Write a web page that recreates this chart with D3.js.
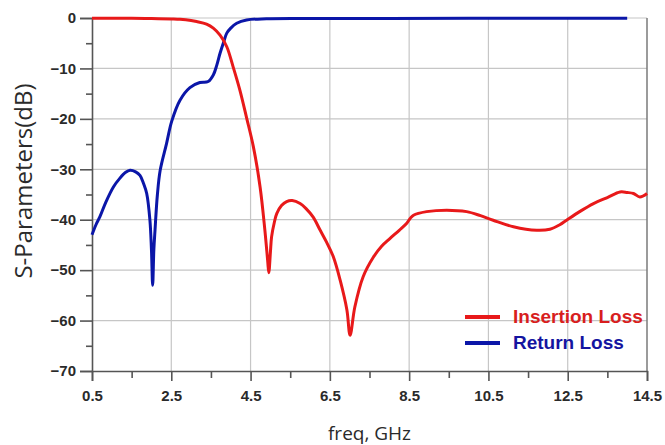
<!DOCTYPE html>
<html>
<head>
<meta charset="utf-8">
<script src="https://cdn.jsdelivr.net/npm/d3@7"></script>
<style>
  html, body { margin: 0; padding: 0; background: #fff; }
  svg { display: block; }
</style>
</head>
<body>
<svg id="chart" width="665" height="445"></svg>
<script>
// ---- Data ----
const xTickValues = [0.5, 2.5, 4.5, 6.5, 8.5, 10.5, 12.5, 14.5];
const xMinorTicks = [1.5, 3.5, 5.5, 7.5, 9.5, 11.5, 13.5];
const yTickValues = [0, -10, -20, -30, -40, -50, -60, -70];
const yMinorTicks = [-5, -15, -25, -35, -45, -55, -65];

const seriesNames = ["Insertion Loss", "Return Loss"];

const insertionFreq = [0.5, 1.5, 2.0, 2.5, 2.72, 3.0, 3.14, 3.39, 3.56, 3.73, 3.90, 4.06, 4.23, 4.40, 4.57, 4.74, 4.86, 4.93, 4.96, 5.00, 5.03, 5.10, 5.16, 5.28, 5.41, 5.55, 5.75, 5.90, 6.08, 6.25, 6.42, 6.59, 6.76, 6.93, 7.01, 7.13, 7.34, 7.60, 7.80, 8.02, 8.25, 8.44, 8.52, 8.61, 8.94, 9.45, 9.95, 10.30, 10.62, 11.13, 11.72, 12.05, 12.30, 12.47, 12.80, 13.15, 13.50, 13.82, 14.00, 14.16, 14.32, 14.50];
const insertionDB   = [-0.05, -0.05, -0.1, -0.2, -0.27, -0.5, -0.7, -1.2, -2.0, -3.4, -5.7, -9.7, -14.3, -19.8, -25.5, -33.5, -42, -48, -50.5, -46.5, -43.4, -40.5, -38.8, -37.2, -36.4, -36.2, -36.8, -37.8, -39.5, -42, -44.5, -47.4, -52, -57.9, -62.9, -57.3, -51.3, -47.4, -45.3, -43.7, -42.1, -40.7, -39.8, -39.1, -38.4, -38.1, -38.4, -39.2, -40.1, -41.4, -42.1, -41.9, -41.0, -40.1, -38.4, -36.8, -35.6, -34.5, -34.6, -34.8, -35.5, -34.8];

const returnFreq = [0.5, 0.6, 0.7, 0.85, 1.04, 1.2, 1.35, 1.46, 1.6, 1.71, 1.8, 1.88, 1.96, 2.00, 2.03, 2.06, 2.09, 2.15, 2.22, 2.38, 2.51, 2.72, 2.97, 3.22, 3.43, 3.56, 3.65, 3.73, 3.82, 3.90, 4.0, 4.15, 4.4, 4.9, 6.0, 8.0, 10.0, 12.0, 14.0];
const returnDB   = [-43, -41, -39.4, -36.5, -33.5, -31.8, -30.6, -30.2, -30.5, -31.2, -32.8, -34.8, -40, -46, -53, -46, -42, -35, -30.2, -24.9, -20.5, -16.3, -13.8, -12.8, -12.6, -11.3, -9.3, -7, -4.8, -3.0, -2.0, -1.05, -0.4, -0.15, -0.1, -0.08, -0.07, -0.05, -0.05];

const seriesColors = ["#e8191a", "#0b16a8"];
const legendTextColors = ["#d81e1e", "#1414a0"];

// ---- Layout ----
const svg = d3.select("#chart");
const plotLeft = 92, plotRight = 647, plotTop = 18, plotBottom = 371;

const x = d3.scaleLinear().domain([0.5, 14.5]).range([plotLeft, plotRight]);
const y = d3.scaleLinear().domain([0, -70]).range([plotTop, plotBottom]);

// Grid lines
const grid = svg.append("g");
grid.selectAll("line.vg").data(xTickValues.slice(1, -1)).join("line")
  .attr("x1", d => x(d)).attr("x2", d => x(d))
  .attr("y1", plotTop).attr("y2", plotBottom)
  .attr("stroke", "#c6c6c6").attr("stroke-width", 1.2);
grid.selectAll("line.hg").data(yTickValues.slice(0, -1)).join("line")
  .attr("x1", plotLeft).attr("x2", plotRight)
  .attr("y1", d => y(d)).attr("y2", d => y(d))
  .attr("stroke", "#c6c6c6").attr("stroke-width", 1.2);
// right border
grid.append("line")
  .attr("x1", plotRight).attr("x2", plotRight).attr("y1", plotTop).attr("y2", plotBottom)
  .attr("stroke", "#7a7a7a").attr("stroke-width", 1.5);

// Axes
const xAxis = d3.axisBottom(x).tickValues(xTickValues).tickFormat(d3.format(".1f")).tickSize(10).tickPadding(9);
const xAxisMinor = d3.axisBottom(x).tickValues(xMinorTicks).tickFormat("").tickSize(7);
const yAxis = d3.axisLeft(y).tickValues(yTickValues).tickFormat(d3.format("d")).tickSize(12).tickPadding(4);
const yAxisMinor = d3.axisLeft(y).tickValues(yMinorTicks).tickFormat("").tickSize(6);

function styleAxis(g) {
  g.selectAll("path.domain").attr("stroke", "#555").attr("stroke-width", 1.6);
  g.selectAll(".tick line").attr("stroke", "#555").attr("stroke-width", 1.6);
  g.selectAll(".tick text")
    .attr("fill", "#2a2a2a")
    .style("font-family", "'Liberation Sans', Arial, sans-serif")
    .style("font-size", "15px")
    .style("font-weight", "bold");
}

svg.append("g").attr("transform", `translate(0,${plotBottom})`).call(xAxisMinor).call(styleAxis).select("path.domain").remove();
svg.append("g").attr("transform", `translate(0,${plotBottom})`).call(xAxis).call(styleAxis);
svg.append("g").attr("transform", `translate(${plotLeft},0)`).call(yAxisMinor).call(styleAxis).select("path.domain").remove();
svg.append("g").attr("transform", `translate(${plotLeft},0)`).call(yAxis).call(styleAxis);

// Axis titles
svg.append("text")
  .attr("x", (plotLeft + plotRight) / 2).attr("y", 440)
  .attr("text-anchor", "middle")
  .style("font-family", "'Open Sans', sans-serif")
  .style("font-size", "19px")
  .attr("fill", "#2a2a2a")
  .text("freq, GHz");

svg.append("text")
  .attr("transform", "translate(32,181) rotate(-90)")
  .attr("text-anchor", "middle")
  .style("font-family", "'Open Sans', sans-serif")
  .style("font-size", "24px")
  .attr("fill", "#2a2a2a")
  .text("S-Parameters(dB)");

// Lines
const line = d3.line().x(d => x(d[0])).y(d => y(d[1])).curve(d3.curveCatmullRom.alpha(0.5));
const seriesData = [
  d3.zip(insertionFreq, insertionDB),
  d3.zip(returnFreq, returnDB)
];

svg.append("g").selectAll("path").data([1, 0]).join("path")
  .attr("d", i => line(seriesData[i]))
  .attr("fill", "none")
  .attr("stroke", i => seriesColors[i])
  .attr("stroke-width", 3)
  .attr("stroke-linejoin", "round");

// Legend
const legend = svg.append("g");
const legendY = [317, 343];
seriesNames.forEach((name, i) => {
  legend.append("line")
    .attr("x1", 465).attr("x2", 500)
    .attr("y1", legendY[i]).attr("y2", legendY[i])
    .attr("stroke", seriesColors[i]).attr("stroke-width", 4);
  legend.append("text")
    .attr("x", 513).attr("y", legendY[i] + 6)
    .style("font-family", "'Liberation Sans', Arial, sans-serif")
    .style("font-size", "19px")
    .style("font-weight", "bold")
    .attr("fill", legendTextColors[i])
    .text(name);
});
</script>
</body>
</html>
